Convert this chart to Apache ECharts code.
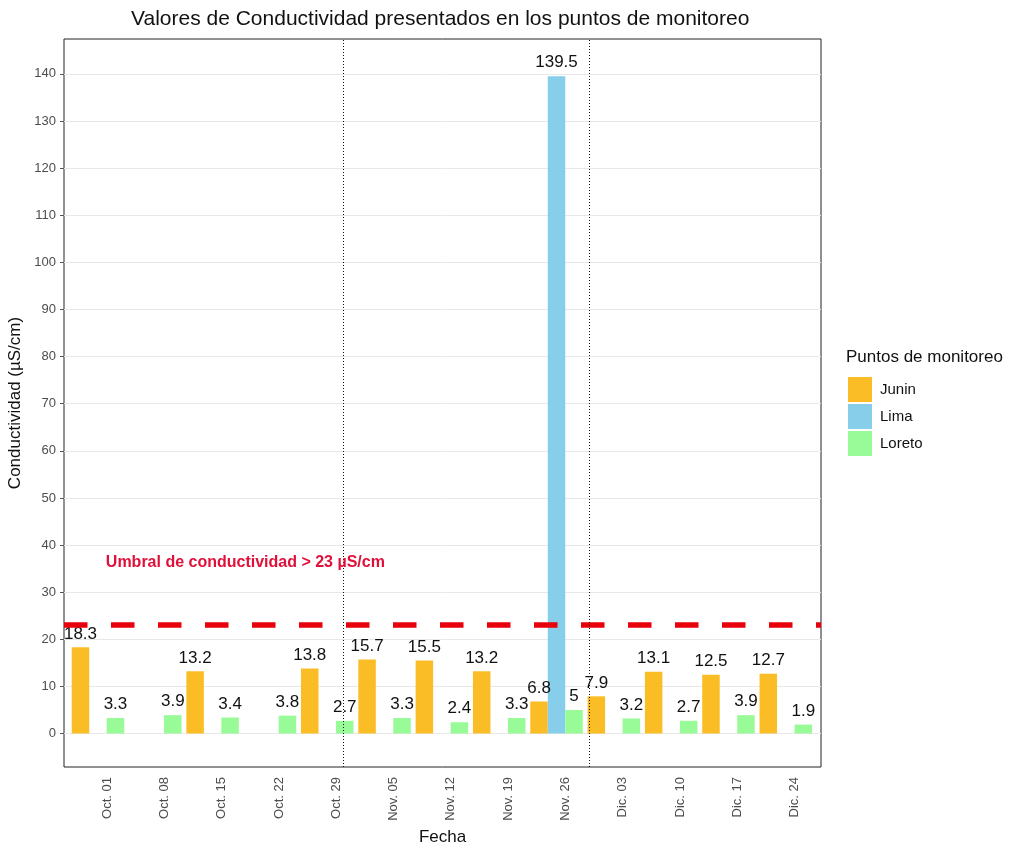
<!DOCTYPE html>
<html><head><meta charset="utf-8">
<script src="https://cdn.jsdelivr.net/npm/echarts@6/dist/echarts.min.js"></script>
<style>html,body{margin:0;padding:0;background:#fff}#c{width:1011px;height:844px}</style>
</head><body><div id="c"></div>
<script>
// ---- data ----
const fechas = ['2018-10-01','2018-10-08','2018-10-15','2018-10-22','2018-10-29','2018-11-05','2018-11-12','2018-11-19','2018-11-26','2018-12-03','2018-12-10','2018-12-17','2018-12-24'];
const etiquetasFecha = ['Oct. 01','Oct. 08','Oct. 15','Oct. 22','Oct. 29','Nov. 05','Nov. 12','Nov. 19','Nov. 26','Dic. 03','Dic. 10','Dic. 17','Dic. 24'];
const junin  = [18.3, null, 13.2, null, 13.8, 15.7, 15.5, 13.2, 6.8, 7.9, 13.1, 12.5, 12.7];
const lima   = [null, null, null, null, null, null, null, null, 139.5, null, null, null, null];
const loreto = [3.3, 3.9, 3.4, 3.8, 2.7, 3.3, 2.4, 3.3, 5, 3.2, 2.7, 3.9, 1.9];
const umbral = 23;
const finesDeMes = ['2018-10-31','2018-11-30'];
const yTicks = [0,10,20,30,40,50,60,70,80,90,100,110,120,130,140];
const textoUmbral = 'Umbral de conductividad > 23 µS/cm';
const posTextoUmbral = ['2018-10-19', 36.3];

// ---- helpers ----
const DAY = 86400000;
const t0 = Date.parse(fechas[0]);
const toDay = d => Math.round((Date.parse(d) - t0) / DAY * 100) / 100;
const xs = fechas.map(toDay);
const pair = arr => arr.map((v, i) => [xs[i], v]);
const FONT = '"Liberation Sans", Arial, sans-serif';

const colors = {Junin: '#FBBD26', Lima: '#87CEEB', Loreto: '#98FB98'};
const barLabel = {show: true, position: 'top', distance: 5, fontSize: 17, color: '#111', fontFamily: FONT};

const chart = echarts.init(document.getElementById('c'), null, {renderer: 'canvas'});
chart.setOption({
  animation: false,
  textStyle: {fontFamily: FONT},
  graphic: [
    {type: 'text', left: 443 - 312, top: 9, style: {text: 'Valores de Conductividad presentados en los puntos de monitoreo', fontSize: 21, fill: '#111', fontFamily: FONT}},
    {type: 'text', left: 846, top: 349, style: {text: 'Puntos de monitoreo', fontSize: 17, fill: '#111', fontFamily: FONT}}
  ],
  legend: {
    data: ['Junin', 'Lima', 'Loreto'], orient: 'vertical', left: 843, top: 372,
    itemWidth: 24, itemHeight: 25, itemGap: 2, icon: 'rect',
    textStyle: {fontSize: 15, color: '#111', fontFamily: FONT, padding: [0, 0, 0, 3]}
  },
  grid: {left: 64, top: 39, width: 757, height: 728, show: true, borderColor: '#222', borderWidth: 1, backgroundColor: '#fff', containLabel: false, outerBoundsMode: 'none'},
  xAxis: {
    type: 'value', min: -4.15, max: 88.3,
    name: 'Fecha', nameLocation: 'middle', nameGap: 58,
    nameTextStyle: {fontSize: 17, color: '#111', fontFamily: FONT},
    axisLine: {show: false, onZero: false},
    axisTick: {show: false, customValues: xs},
    splitLine: {show: false},
    axisLabel: {
      customValues: xs, rotate: 90, margin: 10, fontSize: 13, lineHeight: 18, color: '#4d4d4d', verticalAlign: 'top',
      formatter: v => { const i = xs.indexOf(v); return i >= 0 ? etiquetasFecha[i] : ''; }
    }
  },
  yAxis: {
    type: 'value', min: -7.1, max: 147.4,
    name: 'Conductividad (µS/cm)', nameLocation: 'middle', nameGap: 29,
    nameTextStyle: {fontSize: 17, color: '#111', fontFamily: FONT},
    axisLine: {show: false, onZero: false},
    axisTick: {show: true, length: 4, customValues: yTicks, lineStyle: {color: '#555'}},
    splitLine: {show: true, lineStyle: {color: '#e8e8e8', width: 1}},
    axisLabel: {customValues: yTicks, fontSize: 13, color: '#4d4d4d', margin: 8}
  },
  series: [
    {
      name: 'Junin', type: 'bar', data: pair(junin), barWidth: 17.5, barGap: '0%',
      itemStyle: {color: colors.Junin}, label: barLabel,
      markLine: {
        silent: true, symbol: 'none', animation: false,
        data: [{yAxis: umbral}],
        lineStyle: {color: '#E8000B', width: 5.5, type: [23.5, 23.5]},
        label: {show: false}
      }
    },
    {
      name: 'Lima', type: 'bar', data: pair(lima), barWidth: 17.5, barGap: '0%',
      itemStyle: {color: colors.Lima}, label: barLabel,
      markLine: {
        silent: true, symbol: 'none', animation: false,
        data: finesDeMes.map(d => ({xAxis: toDay(d)})),
        lineStyle: {color: '#111', width: 1, type: [1, 2]},
        label: {show: false}
      },
      markPoint: {
        silent: true, symbolSize: 0,
        data: [{coord: [toDay(posTextoUmbral[0]), posTextoUmbral[1]]}],
        label: {show: true, formatter: textoUmbral, position: 'inside', fontSize: 16, fontWeight: 'bold', color: '#E0103A', fontFamily: FONT}
      }
    },
    {
      name: 'Loreto', type: 'bar', data: pair(loreto), barWidth: 17.5, barGap: '0%',
      itemStyle: {color: colors.Loreto}, label: barLabel
    }
  ]
});
</script></body></html>
